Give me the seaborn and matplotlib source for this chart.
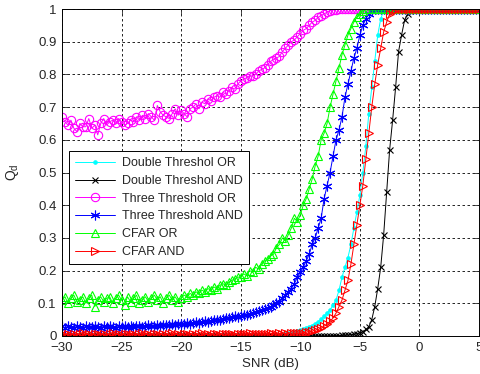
import numpy as np
import matplotlib
matplotlib.use("Agg")
import matplotlib.pyplot as plt
import seaborn as sns

snr = np.linspace(-30, 5, 141)   # 0.25 dB grid

# one row per dB: values at x, x+0.25, x+0.5, x+0.75 ; last value at +5 dB
dt_or = [
    0.002, 0.001, 0.003, 0.002,   # -30
    0.001, 0.002, 0.002, 0.001,   # -29
    0.002, 0.003, 0.001, 0.002,   # -28
    0.002, 0.001, 0.003, 0.002,   # -27
    0.001, 0.002, 0.002, 0.003,   # -26
    0.002, 0.001, 0.002, 0.002,   # -25
    0.003, 0.002, 0.001, 0.002,   # -24
    0.002, 0.003, 0.002, 0.001,   # -23
    0.002, 0.002, 0.003, 0.002,   # -22
    0.002, 0.001, 0.003, 0.002,   # -21
    0.002, 0.003, 0.002, 0.002,   # -20
    0.003, 0.002, 0.003, 0.003,   # -19
    0.002, 0.003, 0.003, 0.002,   # -18
    0.003, 0.003, 0.002, 0.003,   # -17
    0.003, 0.002, 0.003, 0.003,   # -16
    0.002, 0.003, 0.003, 0.003,   # -15
    0.003, 0.003, 0.002, 0.003,   # -14
    0.003, 0.003, 0.004, 0.003,   # -13
    0.003, 0.004, 0.005, 0.006,   # -12
    0.008, 0.010, 0.012, 0.014,   # -11
    0.017, 0.020, 0.024, 0.028,   # -10
    0.032, 0.038, 0.044, 0.051,   # -9
    0.060, 0.070, 0.080, 0.095,   # -8
    0.110, 0.140, 0.180, 0.210,   # -7
    0.240, 0.280, 0.330, 0.380,   # -6
    0.430, 0.500, 0.580, 0.680,   # -5
    0.760, 0.840, 0.920, 0.970,   # -4
    0.995, 1.0, 1.0, 1.0,         # -3
    1.0, 1.0, 1.0, 1.0,           # -2
    1.0, 1.0, 1.0, 1.0,           # -1
    1.0, 1.0, 1.0, 1.0,           # 0
    1.0, 1.0, 1.0, 1.0,           # 1
    1.0, 1.0, 1.0, 1.0,           # 2
    1.0, 1.0, 1.0, 1.0,           # 3
    1.0, 1.0, 1.0, 1.0,           # 4
    1.0,                          # 5
]

dt_and = [
    0.0, 0.0, 0.0, 0.0,           # -30
    0.0, 0.0, 0.0, 0.0,           # -29
    0.0, 0.0, 0.0, 0.0,           # -28
    0.0, 0.0, 0.0, 0.0,           # -27
    0.0, 0.0, 0.0, 0.0,           # -26
    0.0, 0.0, 0.0, 0.0,           # -25
    0.0, 0.0, 0.0, 0.0,           # -24
    0.0, 0.0, 0.0, 0.0,           # -23
    0.0, 0.0, 0.0, 0.0,           # -22
    0.0, 0.0, 0.0, 0.0,           # -21
    0.0, 0.0, 0.0, 0.0,           # -20
    0.0, 0.0, 0.0, 0.0,           # -19
    0.0, 0.0, 0.0, 0.0,           # -18
    0.0, 0.0, 0.0, 0.0,           # -17
    0.0, 0.0, 0.0, 0.0,           # -16
    0.0, 0.0, 0.0, 0.0,           # -15
    0.0, 0.0, 0.0, 0.0,           # -14
    0.0, 0.0, 0.0, 0.0,           # -13
    0.0, 0.0, 0.0, 0.0,           # -12
    0.0, 0.0, 0.0, 0.0,           # -11
    0.0, 0.0, 0.0, 0.0,           # -10
    0.0, 0.0, 0.0, 0.0,           # -9
    0.0, 0.0, 0.0, 0.001,         # -8
    0.001, 0.001, 0.002, 0.002,   # -7
    0.003, 0.004, 0.005, 0.007,   # -6
    0.010, 0.013, 0.020, 0.028,   # -5
    0.050, 0.090, 0.145, 0.210,   # -4
    0.310, 0.440, 0.570, 0.660,   # -3
    0.760, 0.870, 0.920, 0.965,   # -2
    0.985, 0.995, 1.0, 1.0,       # -1
    1.0, 1.0, 1.0, 1.0,           # 0
    1.0, 1.0, 1.0, 1.0,           # 1
    1.0, 1.0, 1.0, 1.0,           # 2
    1.0, 1.0, 1.0, 1.0,           # 3
    1.0, 1.0, 1.0, 1.0,           # 4
    1.0,                          # 5
]

tt_or = [
    0.670, 0.655, 0.645, 0.660,   # -30
    0.635, 0.625, 0.650, 0.640,   # -29
    0.640, 0.665, 0.635, 0.645,   # -28
    0.615, 0.650, 0.665, 0.645,   # -27
    0.655, 0.660, 0.650, 0.665,   # -26
    0.655, 0.645, 0.650, 0.660,   # -25
    0.655, 0.670, 0.660, 0.675,   # -24
    0.665, 0.680, 0.670, 0.660,   # -23
    0.705, 0.685, 0.675, 0.670,   # -22
    0.665, 0.680, 0.695, 0.675,   # -21
    0.690, 0.680, 0.670, 0.695,   # -20
    0.700, 0.710, 0.695, 0.715,   # -19
    0.710, 0.725, 0.720, 0.730,   # -18
    0.735, 0.730, 0.745, 0.740,   # -17
    0.750, 0.760, 0.755, 0.770,   # -16
    0.780, 0.785, 0.790, 0.795,   # -15
    0.795, 0.800, 0.810, 0.815,   # -14
    0.820, 0.830, 0.840, 0.845,   # -13
    0.850, 0.855, 0.870, 0.880,   # -12
    0.890, 0.900, 0.905, 0.915,   # -11
    0.925, 0.935, 0.940, 0.950,   # -10
    0.960, 0.965, 0.975, 0.980,   # -9
    0.985, 0.990, 0.995, 0.997,   # -8
    0.998, 1.0, 1.0, 1.0,         # -7
    1.0, 1.0, 1.0, 1.0,           # -6
    1.0, 1.0, 1.0, 1.0,           # -5
    1.0, 1.0, 1.0, 1.0,           # -4
    1.0, 1.0, 1.0, 1.0,           # -3
    1.0, 1.0, 1.0, 1.0,           # -2
    1.0, 1.0, 1.0, 1.0,           # -1
    1.0, 1.0, 1.0, 1.0,           # 0
    1.0, 1.0, 1.0, 1.0,           # 1
    1.0, 1.0, 1.0, 1.0,           # 2
    1.0, 1.0, 1.0, 1.0,           # 3
    1.0, 1.0, 1.0, 1.0,           # 4
    1.0,                          # 5
]

tt_and = [
    0.030, 0.025, 0.030, 0.028,   # -30
    0.025, 0.030, 0.027, 0.025,   # -29
    0.030, 0.026, 0.028, 0.030,   # -28
    0.027, 0.025, 0.030, 0.028,   # -27
    0.030, 0.028, 0.025, 0.030,   # -26
    0.028, 0.030, 0.027, 0.031,   # -25
    0.029, 0.032, 0.030, 0.028,   # -24
    0.031, 0.033, 0.030, 0.032,   # -23
    0.034, 0.031, 0.033, 0.035,   # -22
    0.033, 0.036, 0.034, 0.037,   # -21
    0.036, 0.038, 0.040, 0.037,   # -20
    0.040, 0.042, 0.041, 0.044,   # -19
    0.045, 0.043, 0.047, 0.048,   # -18
    0.050, 0.049, 0.052, 0.054,   # -17
    0.055, 0.057, 0.060, 0.059,   # -16
    0.062, 0.065, 0.064, 0.068,   # -15
    0.070, 0.072, 0.075, 0.078,   # -14
    0.082, 0.085, 0.090, 0.095,   # -13
    0.100, 0.105, 0.115, 0.125,   # -12
    0.135, 0.145, 0.160, 0.180,   # -11
    0.195, 0.210, 0.230, 0.250,   # -10
    0.280, 0.300, 0.330, 0.360,   # -9
    0.420, 0.460, 0.500, 0.550,   # -8
    0.600, 0.630, 0.670, 0.730,   # -7
    0.770, 0.810, 0.850, 0.880,   # -6
    0.920, 0.950, 0.970, 0.985,   # -5
    0.995, 1.0, 1.0, 1.0,         # -4
    1.0, 1.0, 1.0, 1.0,           # -3
    1.0, 1.0, 1.0, 1.0,           # -2
    1.0, 1.0, 1.0, 1.0,           # -1
    1.0, 1.0, 1.0, 1.0,           # 0
    1.0, 1.0, 1.0, 1.0,           # 1
    1.0, 1.0, 1.0, 1.0,           # 2
    1.0, 1.0, 1.0, 1.0,           # 3
    1.0, 1.0, 1.0, 1.0,           # 4
    1.0,                          # 5
]

cfar_or = [
    0.110, 0.120, 0.100, 0.115,   # -30
    0.125, 0.105, 0.110, 0.120,   # -29
    0.100, 0.115, 0.125, 0.090,   # -28
    0.110, 0.120, 0.105, 0.115,   # -27
    0.120, 0.100, 0.115, 0.125,   # -26
    0.110, 0.095, 0.120, 0.105,   # -25
    0.115, 0.125, 0.100, 0.110,   # -24
    0.120, 0.105, 0.115, 0.125,   # -23
    0.110, 0.120, 0.100, 0.115,   # -22
    0.125, 0.110, 0.120, 0.105,   # -21
    0.115, 0.125, 0.120, 0.130,   # -20
    0.125, 0.135, 0.130, 0.140,   # -19
    0.135, 0.145, 0.140, 0.150,   # -18
    0.145, 0.155, 0.160, 0.155,   # -17
    0.165, 0.170, 0.175, 0.180,   # -16
    0.180, 0.190, 0.185, 0.200,   # -15
    0.195, 0.210, 0.205, 0.220,   # -14
    0.230, 0.235, 0.245, 0.250,   # -13
    0.270, 0.280, 0.300, 0.290,   # -12
    0.310, 0.330, 0.360, 0.350,   # -11
    0.370, 0.400, 0.420, 0.450,   # -10
    0.480, 0.520, 0.550, 0.600,   # -9
    0.620, 0.650, 0.700, 0.740,   # -8
    0.780, 0.820, 0.860, 0.890,   # -7
    0.920, 0.940, 0.960, 0.975,   # -6
    0.985, 0.995, 1.0, 1.0,       # -5
    1.0, 1.0, 1.0, 1.0,           # -4
    1.0, 1.0, 1.0, 1.0,           # -3
    1.0, 1.0, 1.0, 1.0,           # -2
    1.0, 1.0, 1.0, 1.0,           # -1
    1.0, 1.0, 1.0, 1.0,           # 0
    1.0, 1.0, 1.0, 1.0,           # 1
    1.0, 1.0, 1.0, 1.0,           # 2
    1.0, 1.0, 1.0, 1.0,           # 3
    1.0, 1.0, 1.0, 1.0,           # 4
    1.0,                          # 5
]

cfar_and = [
    0.005, 0.003, 0.007, 0.004,   # -30
    0.006, 0.003, 0.005, 0.008,   # -29
    0.004, 0.006, 0.003, 0.005,   # -28
    0.007, 0.004, 0.006, 0.003,   # -27
    0.005, 0.008, 0.004, 0.006,   # -26
    0.003, 0.005, 0.007, 0.004,   # -25
    0.006, 0.003, 0.005, 0.008,   # -24
    0.004, 0.006, 0.003, 0.005,   # -23
    0.007, 0.004, 0.006, 0.003,   # -22
    0.005, 0.008, 0.004, 0.006,   # -21
    0.003, 0.005, 0.007, 0.004,   # -20
    0.006, 0.003, 0.005, 0.008,   # -19
    0.004, 0.006, 0.003, 0.005,   # -18
    0.007, 0.004, 0.006, 0.005,   # -17
    0.005, 0.007, 0.004, 0.006,   # -16
    0.005, 0.007, 0.006, 0.008,   # -15
    0.006, 0.005, 0.007, 0.006,   # -14
    0.007, 0.006, 0.008, 0.007,   # -13
    0.006, 0.008, 0.007, 0.008,   # -12
    0.007, 0.009, 0.008, 0.009,   # -11
    0.008, 0.010, 0.012, 0.013,   # -10
    0.015, 0.018, 0.020, 0.024,   # -9
    0.030, 0.036, 0.045, 0.055,   # -8
    0.070, 0.090, 0.110, 0.140,   # -7
    0.170, 0.220, 0.280, 0.340,   # -6
    0.400, 0.460, 0.540, 0.620,   # -5
    0.700, 0.770, 0.830, 0.880,   # -4
    0.930, 0.960, 0.985, 0.995,   # -3
    1.0, 1.0, 1.0, 1.0,           # -2
    1.0, 1.0, 1.0, 1.0,           # -1
    1.0, 1.0, 1.0, 1.0,           # 0
    1.0, 1.0, 1.0, 1.0,           # 1
    1.0, 1.0, 1.0, 1.0,           # 2
    1.0, 1.0, 1.0, 1.0,           # 3
    1.0, 1.0, 1.0, 1.0,           # 4
    1.0,                          # 5
]

labels = ["Double Threshol OR", "Double Threshol AND", "Three Threshold OR",
          "Three Threshold AND", "CFAR OR", "CFAR AND"]
series = [dt_or, dt_and, tt_or, tt_and, cfar_or, cfar_and]
colors = ["#00ffff", "#000000", "#ff00ff", "#0000ff", "#00ff00", "#ff0000"]
markers = [".", "x", "o", (6, 2, 0), "^", ">"]
msizes = [5, 5, 6, 7, 6, 6]
xticks = [-30, -25, -20, -15, -10, -5, 0, 5]
yticks = [0, 0.1, 0.2, 0.3, 0.4, 0.5, 0.6, 0.7, 0.8, 0.9, 1]
yticklabels = ["0", "0.1", "0.2", "0.3", "0.4", "0.5", "0.6", "0.7", "0.8", "0.9", "1"]

sns.set_style("white")
plt.rcParams["font.family"] = ["Liberation Sans", "DejaVu Sans"]
plt.rcParams["mathtext.fontset"] = "custom"
plt.rcParams["mathtext.rm"] = "Liberation Sans"
plt.rcParams["mathtext.it"] = "Liberation Sans"

fig = plt.figure(figsize=(4.81, 3.74), dpi=100)
ax = fig.add_axes([62 / 481, 1 - 336 / 374, 417 / 481, 327 / 374])

for vals, lab, col, mk, ms in zip(series, labels, colors, markers, msizes):
    n = min(len(snr), len(vals))
    open_marker = mk in ("o", "^", ">")
    sns.lineplot(x=snr[:n], y=vals[:n], ax=ax, color=col, marker=mk, markersize=ms,
                 markerfacecolor="none" if open_marker else col,
                 markeredgecolor=col, markeredgewidth=0.8,
                 linewidth=0.7, label=lab, estimator=None, sort=False)

ax.set_xlim(-30, 5)
ax.set_ylim(0, 1)
ax.set_xticks(xticks)
ax.set_yticks(yticks)
ax.set_yticklabels(yticklabels)
ax.grid(True, color="black", linestyle=(0, (3, 3)), linewidth=0.6)
ax.tick_params(direction="in", length=4, width=0.6, labelsize=9.5,
               top=True, right=True, bottom=True, left=True, pad=4)
for sp in ax.spines.values():
    sp.set_visible(True)
    sp.set_color("black")
    sp.set_linewidth(0.7)

ax.set_xlabel("SNR (dB)", fontsize=9.5, labelpad=3)
ax.set_ylabel(r"$\mathregular{Q_d}$", fontsize=10, labelpad=12)

leg = ax.legend(loc="upper left", bbox_to_anchor=(0.017, 0.566), fontsize=9,
                frameon=True, fancybox=False, framealpha=1, edgecolor="black",
                handlelength=3.2, labelspacing=0.46, borderpad=0.5,
                handletextpad=0.5, borderaxespad=0)
leg.get_frame().set_linewidth(0.7)

fig.savefig("out.png", dpi=100)
